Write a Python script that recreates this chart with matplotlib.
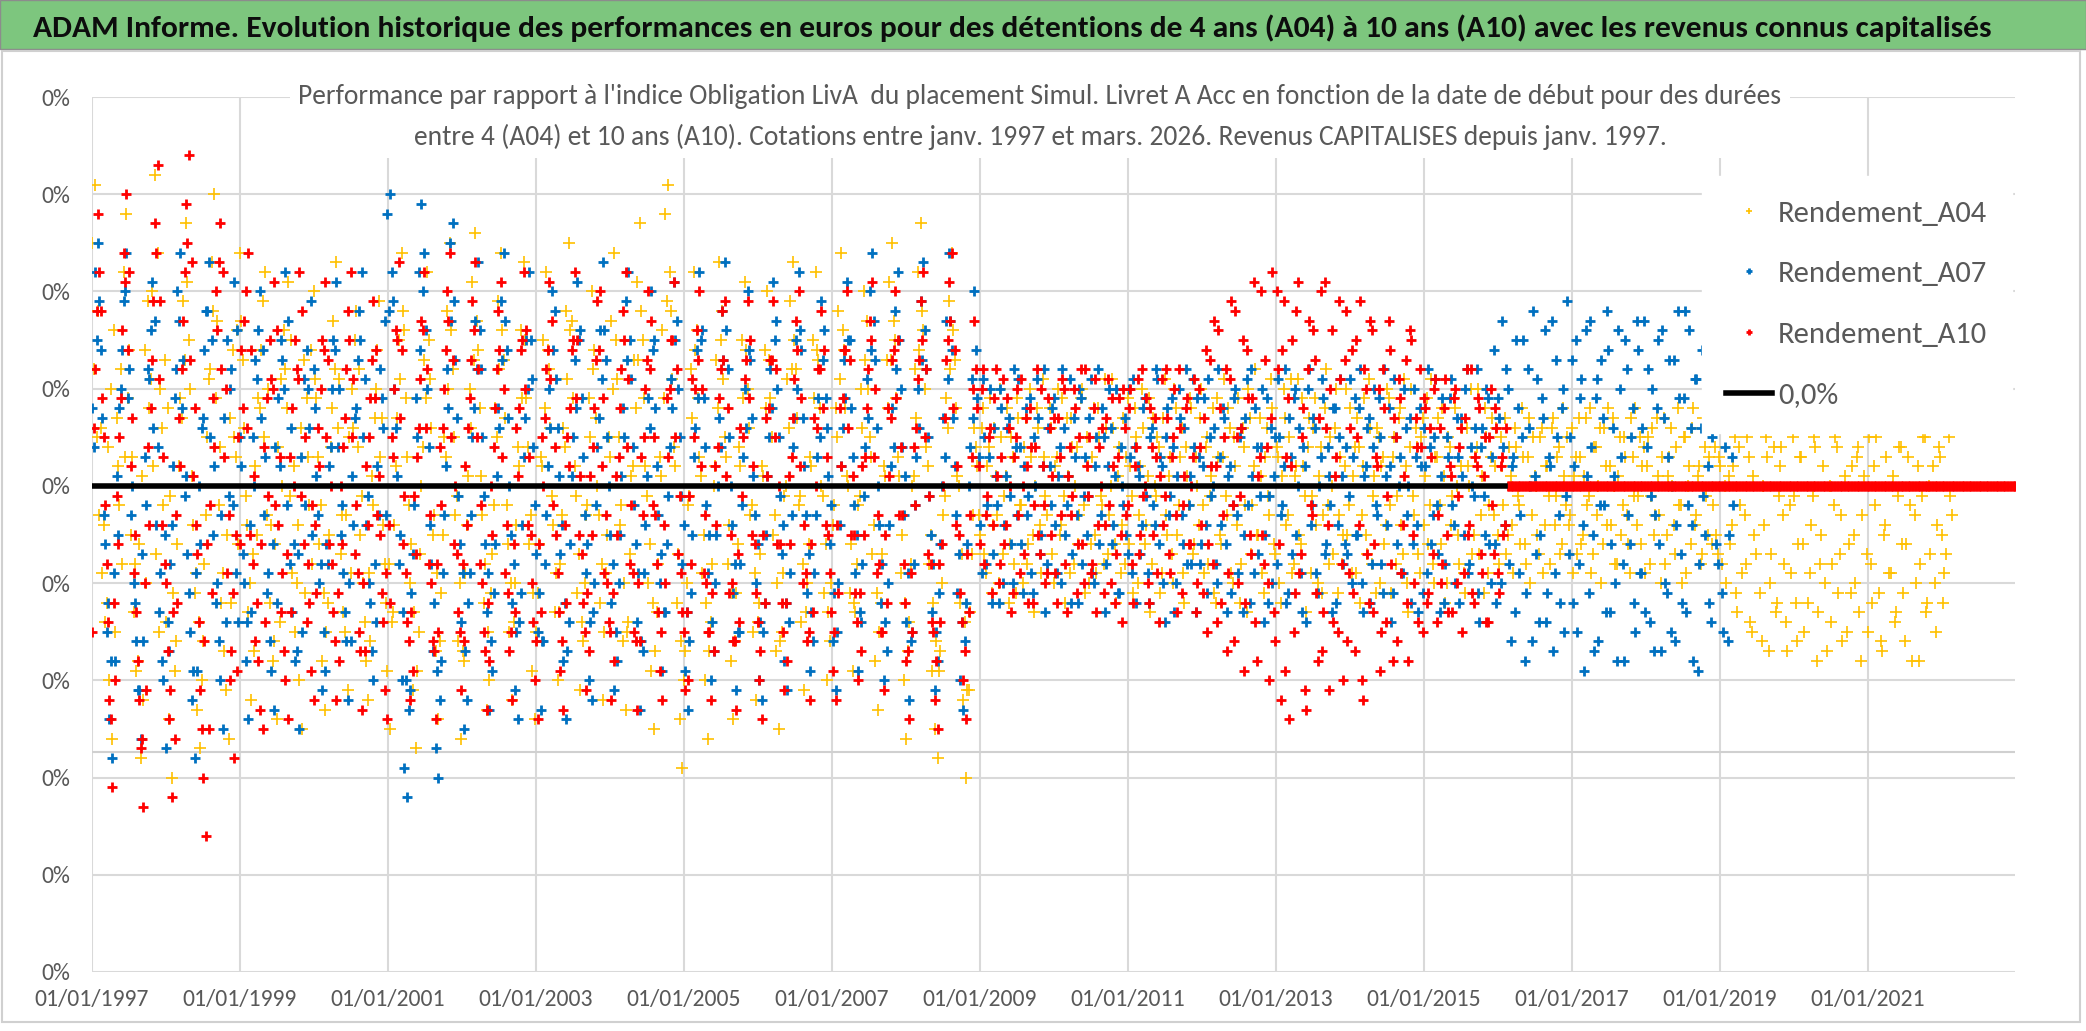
import numpy as np
import pandas as pd
import matplotlib
matplotlib.use("Agg")
from matplotlib import pyplot as plt
from matplotlib import dates as mdates
from matplotlib.patches import Rectangle

plt.rcParams['font.family'] = ['Carlito', 'Liberation Sans Narrow', 'IBM Plex Sans Condensed', 'DejaVu Sans']

title = ("ADAM Informe. Evolution historique des performances en euros pour des détentions "
         "de 4 ans (A04) à 10 ans (A10) avec les revenus connus capitalisés")
subtitle = ("Performance par rapport à l'indice Obligation LivA  du placement Simul. Livret A Acc "
            "en fonction de la date de début pour des durées\n"
            "entre 4 (A04) et 10 ans (A10). Cotations entre janv. 1997 et mars. 2026. "
            "Revenus CAPITALISES depuis janv. 1997.")

# start dates: weekly, kept as two interleaved two-weekly lists
first_date = '1997-01-03'
first_date_b = '1997-01-10'
freq = '14D'

# relative performance, in 0.01 % (one row per year)
a04 = [
    25, 31, 18, 6, -4, -12, -20, -26, -15, 2, 12, 22, 28, 14, 3, -8, -18, -28, -22, -10, 8, 20, 32, 24, 10, -2,
    -14, -24, -30, -19, -6, 9, 19, 27, 15, 1, -11, -23, -27, -16, -3, 11, 23, 30, 17, 4, -9, -21, -26, -12, 5, 16,
    24, 13, -1, -13, -22, -17, -5, 8, 19, 22, 10, -4, -16, -24, -14, 0, 12, 21, 15, 2, -10, -20, -25, -11, 3, 14,
    20, 9, -6, -18, -23, -12, 4, 17, 23, 11, -3, -15, -21, -9, 6, 18, 12, -1, -14, -22, -16, -2, 10, 19, 7, -8,
    -19, -25, -13, 2, 15, 24, 16, 3, -10, -21, -27, -15, 0, 13, 22, 11, -5, -17, -24, -11, 5, 18, 25, 12, -3, -16,
    -26, -18, -4, 10, 21, 26, 14, 1, -12, -23, -20, -7, 8, 19, 24, 13, -2, -15, -22, -10, 4, 16, 23, 9, -6, -19,
    -24, -11, 3, 15, 22, 12, -1, -13, -20, -8, 6, 18, 25, 17, 2, -11, -21, -16, -3, 9, 20, 14, 0, -12, -22, -9,
    5, 17, 24, 11, -4, -16, -23, -14, 1, 13, 21, 27, 15, 2, -10, -19, -25, -13, 3, 16, 28, 31, 18, 4, -12, -24,
    -29, -17, -2, 12, 22, 16, 3, -9, -20, -26, -14, 0, 13, 23, 18, 5, -8, -18, -24, -11, 4, 15, 21, 10, -3, -15,
    -22, -12, 2, 14, 20, 9, -5, -17, -25, -15, -1, 11, 19, 23, 12, -2, -14, -21, -10, 3, 15, 22, 13, 0, -11, -20,
    -16, -4, 8, 18, 24, 14, 1, -11, -19, -13, -2, 10, 20, 17, 5, -7, -18, -23, -12, 2, 13, 21, 25, 15, 3, -9,
    -20, -26, -14, 0, 12, 22, 27, 16, 4, -8, -19, -25, -28, -17, -3, 9, 19, 24, 13, 1, -12, -22, -30, -21, -7, 6,
    2, -5, 8, -9, 4, -11, 6, -3, 10, -7, 1, -12, 5, -8, 9, -2, -10, 7, -6, 3, -13, 8, -4, 11, -1, -9,
    6, -10, 3, -5, 9, -12, 1, 7, -8, 4, -3, 10, -11, 2, -6, 8, -9, 5, -2, 11, -7, 0, 6, -12, 4, -4,
    -8, 9, 2, -11, 5, -3, 10, -6, 1, -13, 7, -1, 4, -9, 11, -5, 3, -10, 8, -2, 6, -12, 1, 9, -7, 3,
    -4, 10, -9, 5, -1, 8, -12, 3, -6, 11, -3, 6, -10, 2, 9, -8, 4, -13, 7, -2, 12, -5, 1, -11, 6, -3,
    8, -7, 3, -12, 10, -4, 5, -9, 1, 11, -6, 2, -13, 7, -1, 9, -10, 4, -3, 12, -8, 0, 6, -11, 3, -5,
    10, -2, -9, 4, 7, -12, 2, -5, 11, -8, 1, 6, -10, 3, -4, 9, -11, 5, -1, 8, -7, 2, -13, 10, -3, 4,
    -9, 7, 1, -6, 11, -10, 3, -2, 8, -12, 5, -4, 9, 0, -8, 6, -11, 2, 10, -5, 4, -7, 1, 8, -9, 3,
    -3, 6, -8, 2, 7, -5, 1, -9, 4, -2, 8, -6, 3, -10, 5, 0, -7, 6, -4, 2, -8, 7, -1, 4, -6, 1,
    5, -3, -9, 3, 7, -6, 1, -2, 8, -7, 4, 0, -10, 6, -4, 2, 7, -8, 1, -5, 5, -3, -9, 3, 8, -1,
    -6, 4, 2, -8, 6, -3, 1, -10, 7, -5, 3, 0, -7, 8, -2, 5, -9, 2, 6, -4, 1, -8, 7, -1, 3, -6,
    4, -7, 2, 6, -10, 1, -4, 5, -13, -2, 6, -8, 3, -15, -5, 7, -11, 0, 5, -17, -7, 4, -12, 2, -3, -14,
    6, -9, -1, -16, 3, -6, 7, -12, -4, 5, -18, -8, 2, -10, 6, -14, -2, 4, -7, -16, 1, 7, -11, -5, 3, -13,
    -3, 6, -15, -8, 2, 5, -11, -17, -4, 7, -9, 1, -13, 4, -6, -16, 3, -2, 6, -10, -18, -1, 5, -12, -7, 2,
    -15, 4, -5, -9, 6, -1,
]
a04_b = [
    12, 5, -3, -9, -14, 4, 10, 16, 7, -2, -8, 3, 9, -5, -13, -19, -6, 1, 14, 19, 11, 2, -7, -15, 6, 13,
    8, -1, -11, -16, 2, 7, 13, 21, 10, -4, -9, -14, -20, -8, 5, 12, 18, 9, -2, -12, -17, -5, 7, 14, 3, -6,
    17, 6, -4, -10, -7, 2, 9, 14, 5, -3, -12, -18, -6, 4, 11, 16, 8, -1, -9, -15, -4, 6, 13, 9, -2, -8,
    11, 3, -2, -11, -15, -5, 8, 12, 6, -7, -13, -3, 5, 10, 15, 4, -5, -10, -18, -9, 1, 7, 14, 3, -4, -12,
    -8, -14, -4, 7, 11, 18, 9, -2, -6, -13, -19, -7, 4, 9, 15, 6, -3, -9, -16, -5, 3, 10, 16, 5, -1, -10,
    -17, -9, 1, 6, 13, 17, 8, -3, -8, -15, -11, -2, 5, 12, 16, 7, -6, -10, -14, -4, 2, 9, 15, 4, -3, -11,
    -15, -6, 2, 8, 14, 6, -4, -9, -13, -3, 4, 11, 16, 9, -1, -7, -14, -10, -2, 5, 12, 7, -3, -8, -15, -5,
    3, 10, 15, 5, -2, -10, -15, -7, 2, 8, 13, 18, 9, -1, -6, -12, -17, -8, 1, 9, 19, 22, 11, 2, -7, -16,
    -20, -10, -1, 7, 14, 9, 1, -5, -12, -17, -8, 2, 8, 15, 11, 3, -4, -11, -16, -6, 2, 9, 14, 6, -2, -9,
    -14, -7, 1, 8, 13, 5, -3, -10, -16, -9, 0, 6, 12, 15, 7, -1, -8, -13, -6, 2, 9, 14, 8, -1, -6, -13,
    -10, -2, 5, 11, 16, 8, 0, -6, -12, -8, -1, 6, 13, 10, 3, -4, -11, -15, -7, 1, 8, 13, 17, 9, 1, -5,
    -12, -17, -8, 1, 7, 14, 18, 10, 2, -5, -12, -16, -19, -10, -1, 6, 12, 16, 8, 0, -7, -14, -21, -13, -3, 4,
    -3, 6, -7, 2, 9, -4, 1, -10, 5, -1, 8, -6, 3, -11, 7, -2, 4, -8, 10, -5, 0, 6, -9, 3, -3, 8,
    -7, 2, 10, -4, -1, 7, -9, 4, 0, -6, 9, -2, 5, -10, 3, -5, 8, -1, -8, 6, -3, 11, -6, 1, -9, 7,
    3, -6, -1, 8, -10, 2, 6, -4, 9, -8, 0, 5, -11, 7, -3, 1, -7, 10, -5, 3, -9, 4, -2, 8, -6, 0,
    7, -2, 4, -8, 1, -11, 9, -5, 3, -1, 8, -9, 5, -4, -12, 6, -2, 10, -7, 2, -5, 7, -9, 3, -1, 11,
    -6, 4, -10, 1, 7, -3, 11, -8, 2, -5, 9, -1, 4, -9, 6, -4, 1, -11, 8, -2, 5, -7, 10, -3, -8, 2,
    -5, 8, 1, -9, 4, -3, 9, -7, 6, -1, -11, 5, 2, -6, 10, -2, 3, -8, 7, -4, 11, -10, 4, -1, 6, -7,
    5, -4, 9, -2, -8, 3, 7, -6, 1, -10, 4, -1, 8, -5, 2, -9, 6, 0, -7, 3, 10, -3, -11, 5, -2, 7,
    2, -5, 5, -2, -7, 4, -4, 6, -1, -6, 3, -8, 7, -3, 1, -5, 5, -9, 2, -1, 6, -4, 3, -7, 8, -2,
    -4, 6, 1, -7, 3, -5, 7, -1, -9, 4, -3, 6, -6, 2, 8, -4, 0, -8, 5, -2, 3, -6, 7, -1, -4, 5,
    2, -9, 5, -1, -5, 7, -3, 3, -8, 1, 6, -4, 4, -2, -10, 5, 0, -6, 8, -3, 2, -7, 4, -5, 6, -2,
    -5, 3, -8, 0, 7, -6, 2, -11, 4, -9, -3, 5, -14, 1, -7, 6, -16, -4, 3, -10, 6, -13, -1, 4, -8, -17,
    -2, 5, -12, -6, 3, -15, 7, -9, -1, 4, -13, -5, 6, -17, 0, -8, 5, -11, -3, 6, -15, -6, 2, -10, 4, -18,
    1, -7, 5, -12, -2, 7, -16, -5, 3, -9, 6, -14, -1, 4, -11, -6, 7, -18, -3, 2, -8, 5, -13, 0, 6, -10,
    -4, 3, -12, -7, 5, -3,
]

a07 = [
    8, 22, 25, 14, -3, -15, -24, -28, -18, -5, 10, 19, 24, 12, 0, -12, -21, -26, -16, -2, 11, 21, 17, 4, -9, -20,
    -27, -17, -4, 9, 20, 24, 13, 1, -11, -22, -28, -19, -6, 7, 18, 23, 15, 2, -10, -20, -25, -14, -1, 12, 21, 16,
    5, -7, -18, -24, -13, 0, 11, 20, 14, 3, -9, -19, -23, -12, 2, 13, 22, 17, 6, -6, -17, -25, -15, -2, 10, 19,
    12, 1, -10, -21, -19, -8, 4, 15, 21, 10, -2, -13, -22, -16, -4, 8, 18, 22, 11, -1, -12, -20, -14, -3, 9, 17,
    28, 30, 19, 6, -8, -20, -29, -32, -21, -7, 9, 22, 29, 24, 10, -4, -17, -27, -30, -18, -3, 12, 25, 27, 13, -1,
    -14, -25, -22, -9, 5, 17, 23, 12, -1, -13, -23, -19, -6, 8, 19, 24, 14, 0, -12, -21, -24, -11, 3, 15, 22, 11,
    -2, -15, -23, -16, -3, 10, 20, 18, 6, -7, -18, -24, -14, 1, 13, 21, 16, 3, -9, -20, -22, -10, 4, 16, 23, 13,
    0, -12, -21, -18, -5, 8, 19, 22, 11, -2, -14, -23, -17, -4, 9, 20, 15, 2, -10, -19, -13, -1, 11, 21, 17, 5,
    -8, -19, -23, -11, 3, 14, 22, 16, 4, -9, -20, -17, -5, 7, 18, 23, 12, 0, -11, -21, -15, -2, 10, 20, 13, 1,
    -10, -20, -22, -12, 1, 12, 21, 17, 5, -7, -18, -21, -9, 4, 15, 22, 14, 2, -11, -19, -16, -3, 9, 19, 16, 6,
    -6, -16, -21, -10, 2, 13, 21, 15, 3, -9, -19, -14, -1, 11, 20, 24, 13, 0, -12, -20, -17, -4, 8, 18, 22, 10,
    -3, -14, -22, -15, -2, 10, 19, 23, 12, -1, -13, -21, -18, -6, 7, 17, 24, 14, 2, -11, -20, -23, -12, 0, 11, 20,
    9, -4, 11, -8, 3, -12, 6, -2, 10, -10, 1, 7, -6, 12, -3, 4, -11, 8, -1, -9, 5, 11, -7, 2, -13, 6,
    -2, 9, -9, 4, 12, -5, 1, -12, 7, -3, 10, -8, 3, -1, 11, -10, 5, -6, 8, -13, 2, 6, -4, 10, -11, 0,
    7, -7, 3, 11, -12, 1, -4, 9, -9, 5, -2, 12, -6, 2, -14, 8, -1, 4, -10, 10, -3, 6, -8, 1, 11, -13,
    3, -6, 9, -11, 5, 0, -8, 12, -4, 7, -13, 2, -2, 10, -9, 6, -5, 11, -12, 1, 8, -7, 4, -14, 9, -1,
    -10, 5, 11, -3, 2, -12, 7, -7, 10, 0, -9, 4, -14, 12, -2, 6, -11, 3, 9, -6, 1, -13, 8, -4, 11, -8,
    4, -1, -10, 9, -5, 12, -13, 2, 7, -8, 10, -3, 5, -11, 1, 8, -14, 11, -6, 3, -9, 6, 0, -12, 10, -4,
    8, -11, 2, 12, -6, 5, -2, -13, 9, -8, 3, 11, -4, 7, -12, 1, 10, -9, 4, -1, 12, -14, 6, -5, 9, -10,
    14, -12, 7, 17, -4, 10, -16, 3, 15, -9, 5, -18, 12, 0, 18, -7, -14, 9, 16, -11, 2, -17, 13, -3, 8, -15,
    19, 5, -12, 15, -8, 11, -19, 1, 17, -5, 9, -16, 13, -2, 18, -13, 6, -10, 16, 3, -18, 12, -6, 8, -15, 14,
    -9, 17, 4, -14, 10, -3, 15, -17, 7, -11, 13, 0, -16, 18, -7, 9, -13, 16, -4, 11, -19, 6, -1, 14, -12, 5,
    12, -8, 9, -15, 6, -5, 3,
]
a07_b = [
    4, 15, 19, 7, -6, -12, -18, -9, 1, 8, 14, 20, 9, -3, -10, -16, -21, -7, 3, 12, 16, 6, -4, -13, -18, -5,
    -14, -8, 2, 12, 17, 8, -1, -7, -15, -19, -9, 0, 6, 14, 18, 5, -5, -12, -16, -3, 7, 15, 10, -2, -9, -14,
    2, -10, -14, -4, 5, 13, 16, 7, -3, -11, -16, -6, 4, 9, 15, 10, -2, -8, -13, -18, -7, 3, 11, 14, 6, -5,
    8, -3, -8, -15, -6, 2, 10, 14, 4, -5, -9, -16, -10, 1, 7, 13, 15, 5, -4, -10, -17, -8, 2, 12, 6, -3,
    18, 22, 10, 1, -5, -13, -20, -23, -11, -2, 5, 14, 20, 16, 4, -8, -12, -19, -22, -9, 2, 8, 17, 19, 7, -6,
    -9, -17, -12, -3, 8, 12, 16, 5, -6, -9, -16, -11, 1, 6, 13, 17, 7, -5, -8, -15, -14, -4, 7, 10, 15, 4,
    -7, -11, -16, -8, 2, 6, 14, 11, 1, -4, -12, -17, -6, 5, 8, 15, 9, -3, -6, -14, -13, -2, 7, 11, 16, 5,
    -5, -8, -15, -10, 1, 5, 13, 15, 4, -6, -9, -16, -9, 1, 6, 14, 8, -3, -7, -13, -6, 4, 8, 15, 10, -1,
    -4, -13, -16, -5, 6, 9, 15, 9, -2, -5, -14, -10, 0, 4, 13, 16, 5, -4, -8, -15, -8, 3, 6, 14, 7, -3,
    -6, -14, -15, -5, 5, 8, 15, 10, -1, -4, -12, -14, -3, 7, 10, 16, 7, -3, -7, -13, -9, 3, 5, 13, 9, 1,
    -2, -11, -15, -4, 6, 9, 15, 8, -2, -5, -13, -8, 4, 7, 14, 17, 6, -4, -8, -14, -10, 2, 4, 12, 15, 4,
    1, -9, -16, -8, 3, 6, 13, 16, 5, -5, -8, -15, -11, 0, 3, 11, 17, 7, -3, -7, -14, -16, -6, 4, 7, 14,
    3, -9, 5, -2, 10, -7, 1, -12, 8, -4, 6, -1, -10, 4, 11, -6, 2, -3, 9, -11, 0, 7, -5, 12, -8, 2,
    8, -4, 1, -10, 6, -2, 11, -7, 3, -12, 9, -1, -5, 7, -9, 2, 12, -3, 5, -8, 10, -6, 1, -11, 4, -2,
    -5, 10, -9, 4, 2, -7, 8, -1, -12, 6, -4, 11, 3, -10, 5, -3, 9, -13, 1, 7, -6, 12, -2, -8, 4, 9,
    -8, 2, -4, 11, -1, 6, -10, 3, 8, -6, 1, -11, 9, -3, 5, -13, 7, -2, 12, -9, 4, -1, 10, -5, -12, 6,
    1, -8, 5, -2, 12, -11, 3, 9, -5, 6, -13, 2, 10, -4, 7, -9, 0, 11, -7, 4, -2, 8, -12, 5, 1, -6,
    -7, 11, 3, -5, 8, -10, 1, 6, -12, 4, -2, 9, -8, 12, -4, 2, -11, 5, 0, -9, 10, -3, 7, -6, 3, -13,
    2, 6, -9, 4, -3, 11, -7, 1, -12, 5, 9, -2, -10, 3, 7, -5, 12, -8, 0, 6, -11, 4, -1, 10, -6, 3,
    -6, 9, -10, 4, 12, -8, 2, -13, 8, -3, 15, -11, 6, -16, 1, 11, -5, 7, -14, 3, 17, -9, 5, -12, 10, -1,
    -7, 13, 2, -15, 9, -4, 16, -11, 4, -17, 11, -2, 7, -13, 14, -6, 1, -18, 10, -8, 15, -3, 5, -12, 17, -9,
    6, -13, 12, -1, -17, 8, -6, 16, -10, 3, -15, 13, -4, 9, -12, 18, -2, 6, -18, 11, -8, 14, -5, 2, -14, 10,
    -6, 15, -11, 4, -16, 8, -2,
]

a10 = [
    -15, 12, 28, 18, 5, -8, -22, -31, -20, -6, 9, 24, 30, 22, 7, -5, -18, -27, -33, -21, -4, 13, 27, 33, 19, 3,
    -10, -24, -32, -26, -12, 2, 17, 29, 34, 23, 8, -7, -21, -30, -36, -25, -11, 4, 16, 27, 22, 10, -3, -17, -28, -19,
    -6, 8, 20, 24, 14, 1, -12, -23, -25, -14, -1, 11, 21, 16, 3, -9, -20, -24, -13, 0, 12, 22, 18, 5, -8, -19,
    -22, -11, 2, 15, 21, 13, 0, -13, -22, -18, -6, 7, 18, 22, 11, -2, -15, -23, -17, -4, 9, 19, 14, 1, -11, -21,
    -24, -12, 3, 16, 23, 14, -1, -14, -22, -19, -7, 6, 17, 22, 12, -3, -16, -24, -15, -2, 10, 20, 24, 13, 0, -13,
    -21, -16, -4, 9, 19, 23, 12, -2, -15, -23, -18, -5, 8, 18, 21, 10, -4, -17, -22, -13, 1, 14, 22, 16, 3, -10,
    -20, -24, -13, 0, 12, 21, 17, 4, -9, -19, -23, -12, 2, 14, 22, 15, 1, -12, -21, -17, -5, 8, 19, 20, 9, -3,
    -14, -22, -18, -5, 8, 18, 22, 11, -2, -15, -23, -16, -3, 10, 20, 17, 5, -8, -19, -22, -10, 3, 15, 21, 12, -1,
    -13, -21, -20, -8, 5, 16, 20, 10, -3, -15, -22, -17, -4, 9, 18, 19, 8, -5, -16, -23, -14, -1, 11, 19, 15, 2,
    -11, -20, -24, -12, 1, 13, 19, 12, 0, -12, -21, -18, -6, 7, 17, 20, 9, -4, -16, -22, -13, 0, 12, 18, 14, 3,
    -9, -19, -22, -11, 2, 14, 20, 13, 1, -11, -20, -17, -5, 8, 17, 21, 10, -3, -15, -21, -12, 1, 13, 20, 15, 4,
    -8, -18, -24, -15, -2, 11, 19, 22, 12, -1, -14, -22, -25, -14, 0, 13, 21, 24, 14, 2, -11, -20, -24, -13, 3, 17,
    8, -6, 12, -3, 5, -11, 9, 1, -8, 11, -4, 6, -13, 3, 10, -9, 0, 7, -12, 4, -2, 12, -7, 2, -10, 9,
    -5, 7, -12, 3, 11, -8, 1, -3, 10, -11, 5, -6, 12, -1, -9, 8, -13, 4, 6, -4, 11, -10, 2, -7, 9, -14,
    6, -2, 10, -12, 4, -7, 12, 0, -10, 8, -5, 3, -14, 11, -1, 7, -9, 5, -3, 12, -11, 1, 9, -6, 3, -13,
    10, -4, 7, -15, 13, -8, 2, 16, -12, 5, -17, 11, -2, 18, -10, 6, -19, 14, -5, 9, -14, 1, 20, -8, 4, -20,
    22, -16, 12, -22, 19, 3, -24, 15, -11, 21, -7, 8, -23, 17, -3, 13, -18, 20, -13, 6, -21, 16, 1, -15, 11, -20,
    18, -9, 14, -17, 5, 19, -22, 10, -12, 16, -6, 2, -19, 12, -14, 17, -8, 7, -16, 9, -4, 13, -18, 15, -10, 4,
    12, -15, 8, -11, 3, 10, -14, 6, -8, 11, -13, 1, 9, -10, 4, -15, 7, -5, 12, -12, 2, 8, -9, 5, -14, 10,
    -7, 6, -11, 3, -4,
]
a10_b = [
    6, 18, 22, 9, -2, -14, -24, -12, -1, 5, 16, 21, 14, 2, -9, -13, -22, -26, -10, 4, 8, 19, 24, 11, -4, -8,
    -17, -21, -13, -3, 7, 12, 22, 25, 13, 1, -4, -14, -25, -16, -6, -2, 9, 20, 23, 12, 3, -9, -20, -11, -5, 5,
    14, 17, 6, -5, -8, -16, -18, -6, 4, 9, 15, 10, -2, -4, -13, -17, -7, 3, 8, 15, 11, -1, -6, -14, -12, -2,
    -4, 6, 10, 14, 5, -6, -8, -16, -11, 0, 4, 12, 15, 5, -7, -9, -17, -10, 2, 5, 13, 9, -3, -5, -14, -9,
    -4, 5, 10, 15, 7, -6, -9, -16, -13, -1, 3, 11, 16, 6, -8, -10, -17, -8, 4, 6, 14, 17, 5, -6, -7, -15,
    -8, 2, 6, 13, 16, 5, -8, -10, -17, -12, 0, 4, 12, 14, 3, -9, -11, -15, -6, 6, 8, 15, 10, -4, -5, -14,
    -16, -6, 5, 7, 14, 11, -2, -5, -13, -16, -4, 5, 8, 15, 9, -5, -7, -15, -11, 1, 4, 13, 14, 2, -9, -10,
    -15, -11, 1, 3, 12, 15, 4, -8, -9, -16, -10, 3, 5, 13, 12, -2, -3, -13, -15, -4, 9, 10, 15, 5, -7, -9,
    -15, -13, -1, 11, 10, 13, 2, -9, -10, -15, -11, 2, 4, 12, 13, 1, -11, -10, -16, -7, 6, 5, 13, 9, -5, -6,
    -14, -17, -5, 7, 8, 13, 5, -6, -6, -15, -12, 1, 3, 11, 14, 2, -10, -9, -15, -6, 7, 6, 12, 8, -4, -5,
    -13, -15, -4, 8, 9, 14, 6, -5, -5, -14, -11, 2, 3, 12, 15, 3, -9, -8, -15, -5, 8, 7, 14, 9, -3, -3,
    -12, -17, -9, 4, 6, 13, 15, 5, -7, -8, -15, -18, -8, -6, 7, 15, 17, 8, -4, -5, -14, -17, -7, -3, 10, 12,
    2, 10, -8, -1, 6, -4, 12, -10, 3, -6, 9, 0, -11, 5, -3, 11, -7, 2, 8, -12, 4, -5, 10, -2, -9, 6,
    1, -9, 7, -3, 10, -13, 4, -1, 8, -6, 12, -10, 2, 5, -8, 11, -4, 0, -11, 7, -2, 9, -12, 3, -5, 10,
    -3, 8, -8, 2, 11, -5, -1, 9, -12, 4, 7, -9, 1, -4, 12, -7, 3, 10, -13, 6, -2, 8, -6, 0, 11, -10,
    4, -11, 14, -6, 2, 17, -14, 8, -3, 12, -9, 19, -16, 5, -1, 15, -12, 9, -7, 21, -18, 3, -5, 13, -10, 7,
    -13, 20, -6, 14, -19, 9, 2, -15, 18, -9, 5, -21, 12, -2, 16, -11, 7, -17, 21, -4, 10, -14, 3, 19, -8, 13,
    -16, 6, -11, 15, -4, -20, 12, -7, 17, -13, 3, 10, -15, 8, -1, 14, -18, 5, 11, -9, 1, -12, 16, -5, 7, -14,
    4, 9, -12, 6, -7, 11, -3, -10, 8, -5, 2, -13, 10, -1, 6, -9, 12, -4, -11, 3, 9, -7, 1, -14, 5, -2,
    8, -9, 2, -5, 6,
]
# 10 year periods not finished yet: value 0
a10_open = [0] * 180

zero_level = 0.0

names = ['Rendement_A04', 'Rendement_A07', 'Rendement_A10', '0,0%']
colors = ['#FFC000', '#0070C0', '#FF0000', '#000000']

W, H = 2086, 1031
fig = plt.figure(figsize=(W / 100, H / 100), dpi=100)

# header band and chart frame
fig.patches.append(Rectangle((0, 1 - 49 / H), 1, 49 / H, transform=fig.transFigure,
                             facecolor='#7DC67E', edgecolor='#8C8C8C', lw=1, zorder=0))
fig.patches.append(Rectangle((2 / W, 1 - 1022 / H), 2078 / W, (1022 - 51) / H, transform=fig.transFigure,
                             facecolor='white', edgecolor='#D0D0D0', lw=1.5, zorder=0))

ax = fig.add_axes([92 / W, 1 - 972 / H, (2015 - 92) / W, (972 - 97) / H])
ax.set_zorder(2)
ax.set_facecolor('none')


def dates_for(start, n):
    return pd.date_range(start, periods=n, freq=freq)


series = [
    (a04, a04_b, colors[0], 8, 1.2),
    (a07, a07_b, colors[1], 7, 2.0),
]
for i, (va, vb, c, ms, mew) in enumerate(series):
    ax.plot(dates_for(first_date, len(va)), np.array(va) / 10000, '+', color=c, ms=ms, mew=mew,
            label=names[i], zorder=3)
    ax.plot(dates_for(first_date_b, len(vb)), np.array(vb) / 10000, '+', color=c, ms=ms, mew=mew,
            zorder=3)

d10 = dates_for(first_date, len(a10) + len(a10_open))
ax.plot([d10[0], d10[len(a10) - 1]], [zero_level, zero_level], color=colors[3], lw=4,
        label=names[3], zorder=4)
ax.plot(d10, np.array(a10 + a10_open) / 10000, '+', color=colors[2], ms=7, mew=2.0,
        label=names[2], zorder=3.5)
ax.plot(dates_for(first_date_b, len(a10_b) + len(a10_open)), np.array(a10_b + a10_open) / 10000,
        '+', color=colors[2], ms=7, mew=2.0, zorder=3.5)

# horizontal axis line (crosses value axis below zero)
ax.axhline(-0.00274, color='#D0D0D0', lw=1.5, zorder=1)

ax.set_xlim(pd.Timestamp('1997-01-01'), pd.Timestamp('2022-12-28'))
ax.set_ylim(-0.005, 0.004)
yt = np.arange(-0.005, 0.0041, 0.001)
ax.set_yticks(yt)
ax.set_yticklabels(['0%'] * len(yt))
ax.set_xticks(pd.date_range('1997-01-01', '2021-01-01', freq='2YS'))
ax.xaxis.set_major_formatter(mdates.DateFormatter('%d/%m/%Y'))
ax.grid(True, color='#D9D9D9', lw=1.5)
ax.set_axisbelow(True)
for s in ax.spines.values():
    s.set_visible(False)
ax.tick_params(length=0, labelsize=17, colors='#595959', pad=12)
ax.tick_params(axis='y', pad=16)

handles, labels = ax.get_legend_handles_labels()
order = [labels.index(n) for n in names]
leg = ax.legend([handles[i] for i in order], [labels[i] for i in order],
                loc='upper left', bbox_to_anchor=(0.837, 0.91), fontsize=22,
                frameon=True, facecolor='white', edgecolor='white', framealpha=1,
                markerscale=0.55, handlelength=1.5, handletextpad=0.2, labelspacing=1.12,
                borderpad=0.8, borderaxespad=0, fancybox=False)
for t in leg.get_texts():
    t.set_color('#595959')

t1 = fig.text(33 / W, 1 - 28 / H, title, ha='left', va='center', fontsize=22,
              fontweight='bold', color='#0D0D0D', zorder=6)
t2 = fig.text(1040 / W, 1 - 117 / H, subtitle, ha='center', va='center', fontsize=19,
              color='#595959', linespacing=1.72, zorder=6)

# fit title widths to the reference
fig.canvas.draw()
r = fig.canvas.get_renderer()
w1 = t1.get_window_extent(r).width
t1.set_fontsize(22 * 1953 / w1)
w2 = t2.get_window_extent(r).width
t2.set_fontsize(19 * 1486 / w2)
t2.set_bbox(dict(facecolor='white', edgecolor='none', pad=6))

fig.savefig('out.png', dpi=100)
